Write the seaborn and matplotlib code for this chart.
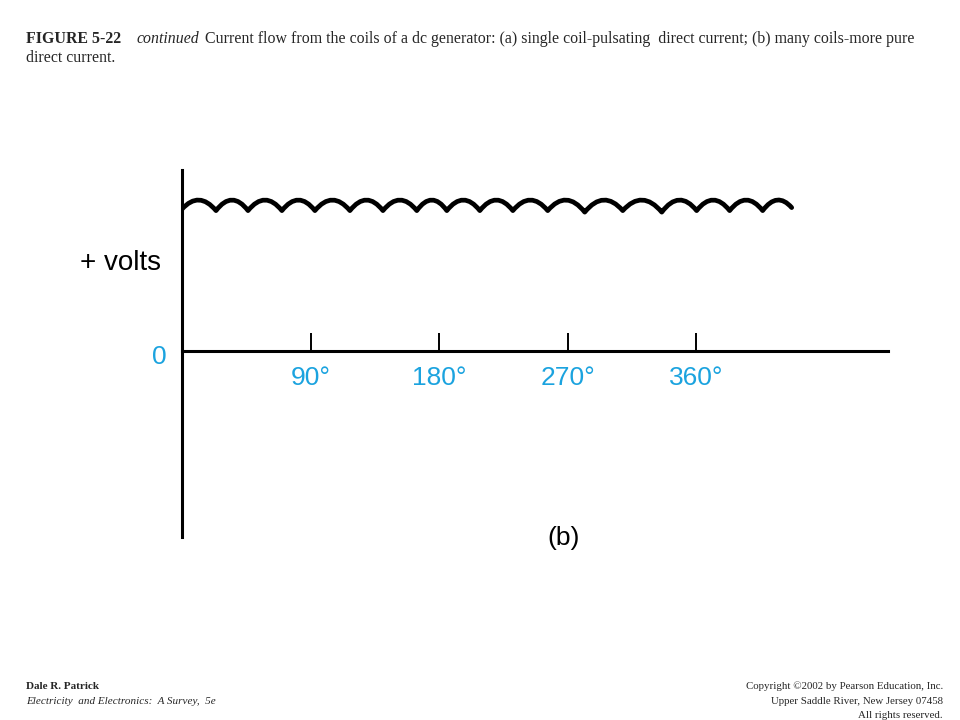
import matplotlib
matplotlib.use("Agg")
import matplotlib.pyplot as plt
import matplotlib.transforms as mtransforms
from matplotlib.path import Path
from matplotlib.patches import PathPatch
import seaborn as sns

# ripple cusps of the generator output (electrical degrees, relative volts)
cusp_deg = [0, 23.8, 46.2, 69.9, 93.0, 117.5, 140.6, 164.3, 185.3, 208.4,
            231.5, 255.9, 281.8, 308.4, 335.7, 360.1, 383.2, 406.3, 426.6]
cusp_volts = [0.94, 0.93, 0.93, 0.93, 0.93, 0.93, 0.93, 0.93, 0.93, 0.93,
              0.93, 0.93, 0.92, 0.93, 0.92, 0.93, 0.93, 0.93, 0.95]
# top of each arch between two cusps
peak_volts = [1.0, 1.0, 1.0, 1.0, 1.0, 1.0, 1.0, 1.0, 1.0,
              1.0, 1.0, 1.0, 1.0, 1.0, 1.0, 1.0, 1.0, 1.0]

tick_deg = [90, 180, 270, 360]
tick_labels = ['90°', '180°', '270°', '360°']

BLUE = '#1ba3df'
W, H = 960, 720

sns.set_theme(style="white")

fig = plt.figure(figsize=(9.6, 7.2), dpi=100)
ax = fig.add_axes([182 / W, 1 - 537 / H, (888 - 182) / W, (537 - 170) / H])

# ripple drawn as one arch per cusp pair
verts = [(cusp_deg[0], cusp_volts[0])]
codes = [Path.MOVETO]
for i, pk in enumerate(peak_volts):
    x0, x1 = cusp_deg[i], cusp_deg[i + 1]
    y0, y1 = cusp_volts[i], cusp_volts[i + 1]
    ctrl = 2 * pk - (y0 + y1) / 2
    verts += [((x0 + x1) / 2, ctrl), (x1, y1)]
    codes += [Path.CURVE3, Path.CURVE3]
ax.add_patch(PathPatch(Path(verts, codes), fill=False, color='black', lw=3.4,
                       joinstyle='round', capstyle='round'))

ax.set_xlim(0, 494)
ax.set_ylim(-1.232, 1.199)

sns.despine(ax=ax)
ax.spines['left'].set_linewidth(2.2)
ax.spines['bottom'].set_linewidth(2.2)
ax.spines['left'].set_color('black')
ax.spines['bottom'].set_color('black')
ax.spines['bottom'].set_position(('data', 0))

ax.set_xticks(tick_deg)
ax.set_xticklabels(tick_labels, family='Liberation Sans', fontsize=19, color=BLUE)
ax.tick_params(axis='x', direction='in', length=13, width=1.4, color='black', pad=11, bottom=True)
ax.set_yticks([0])
ax.set_yticklabels(['0'], family='Liberation Sans', fontsize=19, color=BLUE)
ax.tick_params(axis='y', length=0, pad=11)
# the zero label sits a little below the axis line
shift = mtransforms.ScaledTranslation(0, -3 / 100, fig.dpi_scale_trans)
for lab in ax.get_yticklabels():
    lab.set_transform(lab.get_transform() + shift)
ax.grid(False)
ax.set_facecolor('none')

fig.text(120 / W, 1 - 263 / H, '+ volts', family='Liberation Sans', fontsize=20,
         ha='center', va='center', color='black')
fig.text(564 / W, 1 - 538 / H, '(b)', family='Liberation Sans', fontsize=19,
         ha='center', va='center', color='black')

# caption
serif = 'Liberation Serif'
fig.text(26 / W, 1 - 43 / H, 'FIGURE 5-22', family=serif, fontsize=11.4, fontweight='bold')
fig.text(137 / W, 1 - 43 / H, 'continued', family=serif, fontsize=11.4, style='italic')
fig.text(205 / W, 1 - 43 / H,
         'Current flow from the coils of a dc generator: (a) single coil-pulsating  '
         'direct current; (b) many coils-more pure', family=serif, fontsize=11.45)
fig.text(26 / W, 1 - 62 / H, 'direct current.', family=serif, fontsize=11.4)

# footer
fig.text(26 / W, 1 - 689 / H, 'Dale R. Patrick', family=serif, fontsize=8, fontweight='bold')
fig.text(26 / W, 1 - 704 / H, 'Electricity  and Electronics:  A Survey,  5e', family=serif,
         fontsize=8, style='italic')
fig.text(943 / W, 1 - 689 / H, 'Copyright ©2002 by Pearson Education, Inc.', family=serif,
         fontsize=7.8, ha='right')
fig.text(943 / W, 1 - 704 / H, 'Upper Saddle River, New Jersey 07458', family=serif,
         fontsize=7.8, ha='right')
fig.text(943 / W, 1 - 718 / H, 'All rights reserved.', family=serif, fontsize=7.8, ha='right')

fig.savefig('out.png', dpi=100, facecolor='white')
